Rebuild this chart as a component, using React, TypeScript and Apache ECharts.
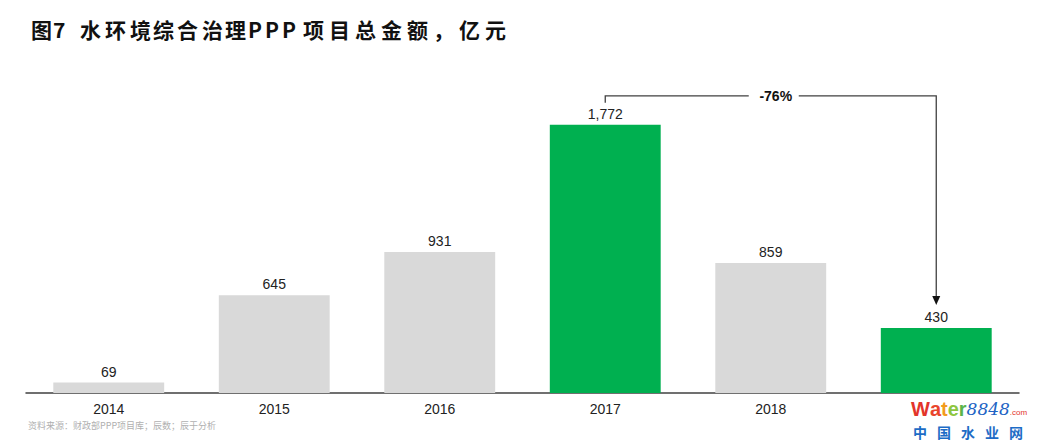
import React, { useEffect, useRef } from "react";
import * as echarts from "echarts";

// Years and total project value (亿元)
const years = ["2014", "2015", "2016", "2017", "2018", "2019"];
const totals = [69, 645, 931, 1772, 859, 430];
const highlighted = [false, false, false, true, false, true];
const changeLabel = "-76%";

const titleText = "图7 水环境综合治理PPP项目总金额，亿元";
const sourceText = "资料来源：财政部PPP项目库；辰数；辰于分析";
const siteName = "中国水业网";

const GRAY = "#d9d9d9";
const GREEN = "#00b050";
const FONT = "'Liberation Sans', Arial, sans-serif";
const CJK = "'Noto Sans CJK SC', sans-serif";

// x positions of the title glyphs (the title is set with wide tracking)
const titleX = [31, 53, 0, 80, 105, 130, 153, 177, 202, 225, 248, 265, 282, 303, 329, 355, 381, 407, 433, 459, 485];

export default function App() {
  const ref = useRef<HTMLDivElement>(null);

  useEffect(() => {
    if (!ref.current) return;
    const chart = echarts.init(ref.current, null, { renderer: "svg" });

    const titleGlyphs: any[] = [];
    Array.from(titleText).forEach((ch, i) => {
      if (ch === " ") return;
      titleGlyphs.push({
        type: "text",
        x: titleX[i],
        y: 29,
        style: {
          text: ch,
          font: `bold 21px ${CJK}`,
          fill: "#111",
          textVerticalAlign: "middle",
        },
      });
    });

    const siteGlyphs = Array.from(siteName).map((ch, i) => ({
      type: "text",
      z: 100,
      x: 913 + i * 24,
      y: 432,
      style: {
        text: ch,
        font: `bold 14px ${CJK}`,
        fill: "#1d6cc6",
        textVerticalAlign: "middle",
      },
    }));

    chart.setOption({
      animation: false,
      grid: { left: 26, right: 22, top: 60, bottom: 52 },
      xAxis: {
        type: "category",
        data: years,
        axisLine: { lineStyle: { color: "#404040", width: 1.5 } },
        axisTick: { show: false },
        axisLabel: {
          color: "#222",
          fontSize: 14,
          fontFamily: FONT,
          margin: 9,
          // the last year's label sits under the site mark
          interval: (idx: number) => idx < years.length - 1,
        },
      },
      yAxis: {
        type: "value",
        min: 0,
        max: 2200,
        show: false,
        splitLine: { show: false },
      },
      series: [
        {
          type: "bar",
          barWidth: "67%",
          data: totals.map((v, i) => ({
            value: v,
            itemStyle: { color: highlighted[i] ? GREEN : GRAY },
          })),
          label: {
            show: true,
            position: "top",
            distance: 4,
            color: "#222",
            fontSize: 14,
            fontFamily: FONT,
            formatter: (p: any) => Number(p.value).toLocaleString("en-US"),
          },
        },
      ],
    });

    // Bracket from the 2017 peak to 2019, placed on the axis scale
    const [xFrom, yPeak] = chart.convertToPixel({ xAxisIndex: 0, yAxisIndex: 0 }, [years[3], totals[3]]);
    const [xTo, yLast] = chart.convertToPixel({ xAxisIndex: 0, yAxisIndex: 0 }, [years[5], totals[5]]);
    const yBracket = yPeak - 29;
    const xMid = (xFrom + xTo) / 2 + 5;
    const yTip = yLast - 23;

    chart.setOption({
      graphic: [
        ...titleGlyphs,
        {
          type: "polyline",
          shape: { points: [[xFrom, yBracket + 7], [xFrom, yBracket], [xMid - 27, yBracket]] },
          style: { stroke: "#404040", lineWidth: 1.3, fill: null },
        },
        {
          type: "polyline",
          shape: { points: [[xMid + 23, yBracket], [xTo, yBracket], [xTo, yTip - 7]] },
          style: { stroke: "#404040", lineWidth: 1.3, fill: null },
        },
        {
          type: "polygon",
          shape: { points: [[xTo - 4, yTip - 9], [xTo + 4, yTip - 9], [xTo, yTip]] },
          style: { fill: "#111" },
        },
        {
          type: "text",
          x: xMid,
          y: yBracket,
          style: {
            text: changeLabel,
            font: `bold 14px ${FONT}`,
            fill: "#111",
            textAlign: "center",
            textVerticalAlign: "middle",
          },
        },
        {
          type: "text",
          x: 28,
          y: 425,
          style: {
            text: sourceText,
            font: `9px ${CJK}`,
            fill: "#b0b0b0",
            textVerticalAlign: "middle",
          },
        },
        // site watermark
        {
          type: "text",
          z: 100,
          x: 911,
          y: 409,
          style: {
            text: "{w|W}{a|a}{t|t}{e|e}{r|r}{n|8848}{c|.com}",
            textVerticalAlign: "middle",
            rich: {
              w: { font: `bold 20px ${FONT}`, fill: "#e3342b" },
              a: { font: `bold 20px ${FONT}`, fill: "#e9452c" },
              t: { font: `bold 20px ${FONT}`, fill: "#f29b1d" },
              e: { font: `bold 20px ${FONT}`, fill: "#8dc63f" },
              r: { font: `bold 20px ${FONT}`, fill: "#5cb44a" },
              n: { font: `italic 17px 'DejaVu Serif', serif`, fill: "#2163c4" },
              c: { font: `8px ${FONT}`, fill: "#e3342b", padding: [7, 0, 0, 0] },
            },
          },
        },
        ...siteGlyphs,
      ],
    });

    return () => chart.dispose();
  }, []);

  return (
    <div
      ref={ref}
      style={{ position: "absolute", left: 0, top: 0, width: 1041, height: 445, background: "#fff" }}
    />
  );
}
